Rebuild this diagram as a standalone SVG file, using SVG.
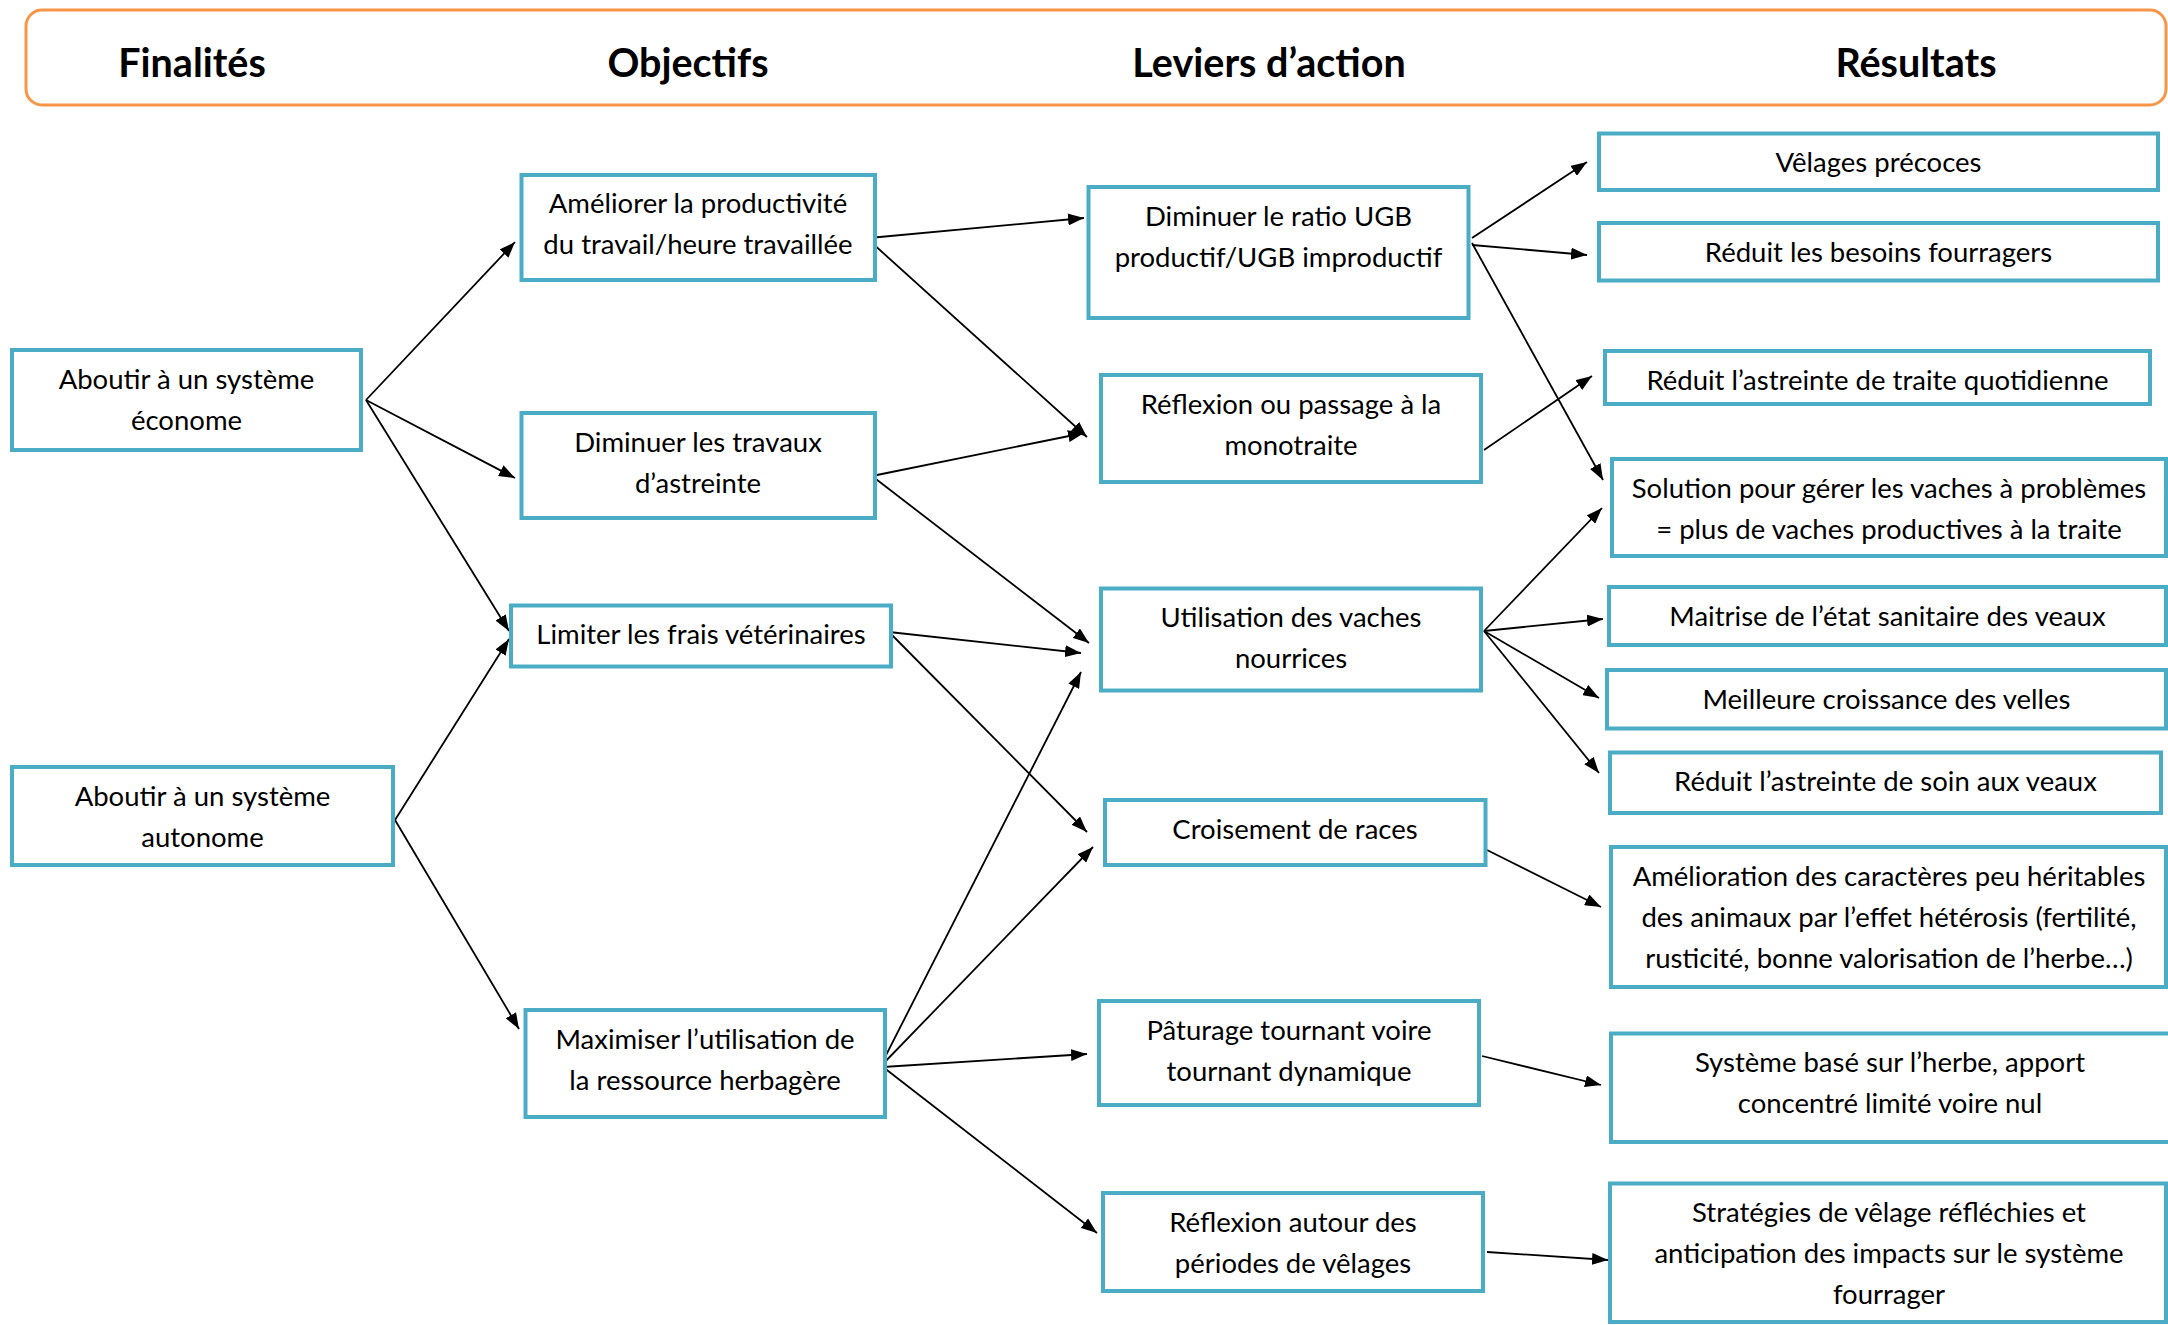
<svg xmlns="http://www.w3.org/2000/svg" width="2168" height="1325" viewBox="0 0 2168 1325">
<defs>
<style>
.box{fill:#ffffff;stroke:#4BACC6;stroke-width:4}
.t{font-family:Lato,"Liberation Sans",sans-serif;font-size:27.5px;fill:#000;text-anchor:middle}
.h{font-family:Lato,"Liberation Sans",sans-serif;font-size:39.5px;font-weight:bold;fill:#000;text-anchor:middle}
.c line{stroke:#000;stroke-width:1.8;marker-end:url(#ah)}
</style>
<marker id="ah" markerUnits="userSpaceOnUse" markerWidth="16" markerHeight="12" refX="16" refY="6" orient="auto">
<path d="M0,0 L16,6 L0,12 z" fill="#000"/>
</marker>
</defs>
<rect width="2168" height="1325" fill="#ffffff"/>
<g id="header">
<rect x="26" y="10" width="2140" height="95" rx="16" ry="16" fill="none" stroke="#F79646" stroke-width="3"/>
<text class="h" x="192" y="77">Finalités</text>
<text class="h" x="688" y="77">Objectifs</text>
<text class="h" x="1269" y="77">Leviers d’action</text>
<text class="h" x="1916" y="77">Résultats</text>
</g>
<g id="connectors" class="c">
<line x1="366" y1="400" x2="515" y2="242"/>
<line x1="366" y1="400" x2="515" y2="478"/>
<line x1="366" y1="400" x2="509" y2="631"/>
<line x1="395" y1="820" x2="509" y2="639"/>
<line x1="395" y1="820" x2="519" y2="1029"/>
<line x1="869" y1="238" x2="1084" y2="218"/>
<line x1="871" y1="242" x2="1087" y2="437"/>
<line x1="872" y1="476" x2="1084" y2="433"/>
<line x1="872" y1="476" x2="1089" y2="643"/>
<line x1="889" y1="632" x2="1081" y2="653"/>
<line x1="889" y1="632" x2="1087" y2="832"/>
<line x1="880" y1="1067" x2="1081" y2="672"/>
<line x1="880" y1="1067" x2="1093" y2="847"/>
<line x1="883" y1="1067" x2="1087" y2="1054"/>
<line x1="883" y1="1067" x2="1097" y2="1233"/>
<line x1="1472" y1="238" x2="1587" y2="162"/>
<line x1="1472" y1="245" x2="1587" y2="255"/>
<line x1="1472" y1="243" x2="1603" y2="480"/>
<line x1="1484" y1="450" x2="1592" y2="376"/>
<line x1="1484" y1="631" x2="1602" y2="508"/>
<line x1="1484" y1="631" x2="1603" y2="619"/>
<line x1="1484" y1="631" x2="1599" y2="698"/>
<line x1="1484" y1="631" x2="1599" y2="773"/>
<line x1="1487" y1="850" x2="1601" y2="907"/>
<line x1="1482" y1="1056" x2="1601" y2="1085"/>
<line x1="1487" y1="1252" x2="1608" y2="1260"/>
</g>
<g id="n-econome"><rect class="box" x="12" y="350" width="349" height="100"/><text class="t" x="186.5" y="388.5">Aboutir à un système</text><text class="t" x="186.5" y="429.5">économe</text></g>
<g id="n-autonome"><rect class="box" x="12" y="767" width="381" height="98"/><text class="t" x="202.5" y="805.5">Aboutir à un système</text><text class="t" x="202.5" y="846.5">autonome</text></g>
<g id="n-ameliorer"><rect class="box" x="521.5" y="175" width="353.5" height="105"/><text class="t" x="698" y="212.5">Améliorer la productivité</text><text class="t" x="698" y="254">du travail/heure travaillée</text></g>
<g id="n-travaux"><rect class="box" x="521.5" y="413" width="353.5" height="105"/><text class="t" x="698" y="451.5">Diminuer les travaux</text><text class="t" x="698" y="492.5">d’astreinte</text></g>
<g id="n-frais"><rect class="box" x="511" y="605.5" width="380" height="61"/><text class="t" x="701" y="644">Limiter les frais vétérinaires</text></g>
<g id="n-herbe"><rect class="box" x="525.5" y="1010" width="359.5" height="107"/><text class="t" x="705" y="1048.5">Maximiser l’utilisation de</text><text class="t" x="705" y="1089.5">la ressource herbagère</text></g>
<g id="n-ratio"><rect class="box" x="1088.5" y="187" width="380" height="131"/><text class="t" x="1278.5" y="225.5">Diminuer le ratio UGB</text><text class="t" x="1278.5" y="266.5">productif/UGB improductif</text></g>
<g id="n-monotraite"><rect class="box" x="1101" y="375" width="380" height="107"/><text class="t" x="1291" y="413.5">Réflexion ou passage à la</text><text class="t" x="1291" y="454.5">monotraite</text></g>
<g id="n-nourrices"><rect class="box" x="1101" y="588.5" width="380" height="102"/><text class="t" x="1291" y="627">Utilisation des vaches</text><text class="t" x="1291" y="668">nourrices</text></g>
<g id="n-croisement"><rect class="box" x="1105" y="800" width="380.5" height="65"/><text class="t" x="1295" y="838.5">Croisement de races</text></g>
<g id="n-paturage"><rect class="box" x="1099" y="1001" width="380" height="104"/><text class="t" x="1289" y="1039.5">Pâturage tournant voire</text><text class="t" x="1289" y="1080.5">tournant dynamique</text></g>
<g id="n-periodes"><rect class="box" x="1103" y="1193" width="380" height="98"/><text class="t" x="1293" y="1231.5">Réflexion autour des</text><text class="t" x="1293" y="1272.5">périodes de vêlages</text></g>
<g id="r-velages"><rect class="box" x="1599" y="133.5" width="559" height="56.5"/><text class="t" x="1878.5" y="172">Vêlages précoces</text></g>
<g id="r-besoins"><rect class="box" x="1599" y="223" width="559" height="57.5"/><text class="t" x="1878.5" y="261.5">Réduit les besoins fourragers</text></g>
<g id="r-traite"><rect class="box" x="1605" y="351" width="545" height="53"/><text class="t" x="1877.5" y="389.5">Réduit l’astreinte de traite quotidienne</text></g>
<g id="r-solution"><rect class="box" x="1612" y="459" width="554" height="97"/><text class="t" x="1889" y="497.5">Solution pour gérer les vaches à problèmes</text><text class="t" x="1889" y="538.5">= plus de vaches productives à la traite</text></g>
<g id="r-sanitaire"><rect class="box" x="1609" y="587" width="557" height="58"/><text class="t" x="1887.5" y="625.5">Maitrise de l’état sanitaire des veaux</text></g>
<g id="r-velles"><rect class="box" x="1607" y="670" width="559" height="58.5"/><text class="t" x="1886.5" y="708.5">Meilleure croissance des velles</text></g>
<g id="r-soin"><rect class="box" x="1610" y="752.5" width="551" height="60.5"/><text class="t" x="1885.5" y="791">Réduit l’astreinte de soin aux veaux</text></g>
<g id="r-heterosis"><rect class="box" x="1611" y="847" width="555" height="140"/><text class="t" x="1889" y="885.5">Amélioration des caractères peu héritables</text><text class="t" x="1889" y="926.5">des animaux par l’effet hétérosis (fertilité,</text><text class="t" x="1889" y="967.5">rusticité, bonne valorisation de l’herbe…)</text></g>
<g id="r-systeme"><rect class="box" x="1611" y="1033.5" width="562" height="108.5"/><text class="t" x="1890" y="1072">Système basé sur l’herbe, apport</text><text class="t" x="1890" y="1113">concentré limité voire nul</text></g>
<g id="r-strategies"><rect class="box" x="1610" y="1183.5" width="556" height="138.5"/><text class="t" x="1889" y="1222">Stratégies de vêlage réfléchies et</text><text class="t" x="1889" y="1263">anticipation des impacts sur le système</text><text class="t" x="1889" y="1304">fourrager</text></g>
</svg>
